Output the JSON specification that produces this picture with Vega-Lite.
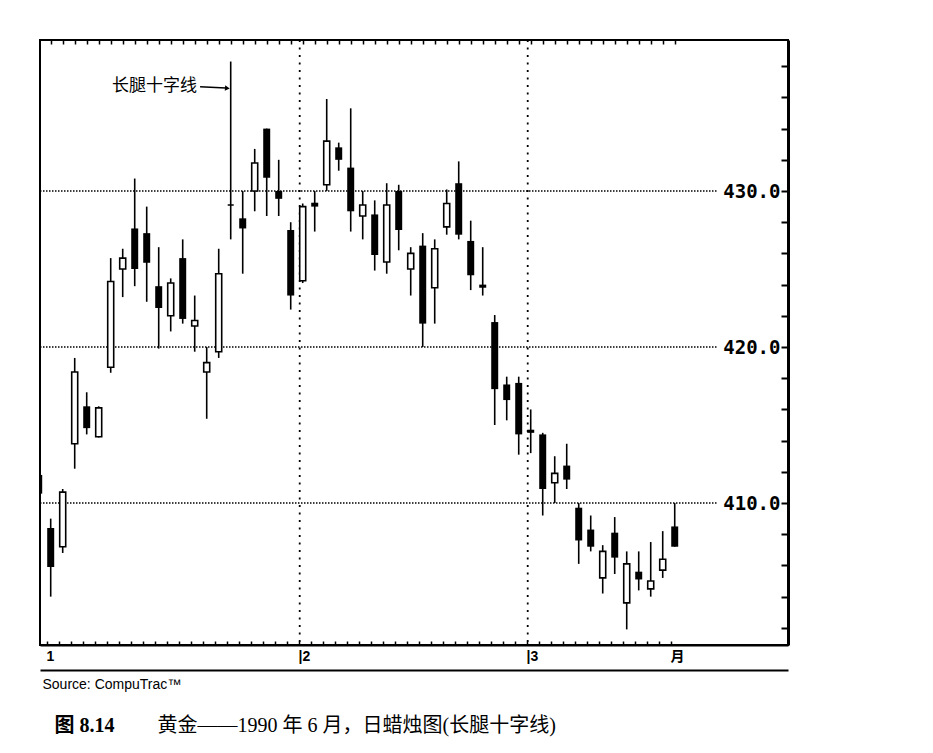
{
  "$schema": "https://vega.github.io/schema/vega-lite/v6.json",
  "width": 748,
  "height": 605,
  "autosize": {"type": "none"},
  "padding": {"left": 40, "top": 40, "right": 145, "bottom": 108},
  "background": "white",
  "config": {
    "view": {"stroke": "black", "strokeWidth": 2},
    "axis": {"labelColor": "black", "tickColor": "black", "domainColor": "black", "titleColor": "black", "grid": false}
  },
  "datasets": {
    "candles": [
      {"k": 0, "o": 411.8, "h": 411.8, "l": 410.6, "c": 410.6},
      {"k": 1, "o": 408.4, "h": 409.0, "l": 404.0, "c": 405.9},
      {"k": 2, "o": 407.2, "h": 410.9, "l": 406.8, "c": 410.7},
      {"k": 3, "o": 413.8, "h": 419.3, "l": 412.2, "c": 418.4},
      {"k": 4, "o": 416.2, "h": 417.1, "l": 414.4, "c": 414.8},
      {"k": 5, "o": 414.25, "h": 416.2, "l": 414.2, "c": 416.1},
      {"k": 6, "o": 418.7, "h": 425.7, "l": 418.35, "c": 424.2},
      {"k": 7, "o": 425.0, "h": 426.3, "l": 423.2, "c": 425.7},
      {"k": 8, "o": 427.6, "h": 430.8, "l": 423.9, "c": 425.0},
      {"k": 9, "o": 427.3, "h": 429.0, "l": 422.9, "c": 425.4},
      {"k": 10, "o": 423.9, "h": 426.4, "l": 419.9, "c": 422.5},
      {"k": 11, "o": 422.0, "h": 424.4, "l": 421.0, "c": 424.1},
      {"k": 12, "o": 425.7, "h": 426.9, "l": 421.5, "c": 421.8},
      {"k": 13, "o": 421.35, "h": 423.3, "l": 419.7, "c": 421.7},
      {"k": 14, "o": 418.4, "h": 420.0, "l": 415.4, "c": 419.0},
      {"k": 15, "o": 419.7, "h": 426.3, "l": 419.3, "c": 424.7},
      {"k": 16, "o": 429.1, "h": 438.3, "l": 426.9, "c": 429.1},
      {"k": 17, "o": 428.25, "h": 430.0, "l": 424.7, "c": 427.6},
      {"k": 18, "o": 430.0, "h": 432.7, "l": 428.7, "c": 431.8},
      {"k": 19, "o": 434.0, "h": 434.0, "l": 428.4, "c": 430.85},
      {"k": 20, "o": 430.0, "h": 432.0, "l": 428.4, "c": 429.5},
      {"k": 21, "o": 427.5, "h": 428.0, "l": 422.4, "c": 423.3},
      {"k": 22, "o": 424.25, "h": 429.2, "l": 424.1, "c": 429.0},
      {"k": 23, "o": 429.25, "h": 430.0, "l": 427.4, "c": 429.0},
      {"k": 24, "o": 430.4, "h": 435.9, "l": 430.0, "c": 433.2},
      {"k": 25, "o": 432.8, "h": 433.1, "l": 431.3, "c": 432.0},
      {"k": 26, "o": 431.5, "h": 435.3, "l": 427.4, "c": 428.7},
      {"k": 27, "o": 428.4, "h": 430.0, "l": 426.9, "c": 429.1},
      {"k": 28, "o": 428.5, "h": 429.4, "l": 424.9, "c": 425.9},
      {"k": 29, "o": 425.45, "h": 430.5, "l": 424.7, "c": 429.1},
      {"k": 30, "o": 430.0, "h": 430.4, "l": 426.2, "c": 427.5},
      {"k": 31, "o": 425.0, "h": 426.4, "l": 423.3, "c": 426.0},
      {"k": 32, "o": 426.5, "h": 427.3, "l": 420.0, "c": 421.5},
      {"k": 33, "o": 423.8, "h": 426.9, "l": 421.5, "c": 426.3},
      {"k": 34, "o": 427.7, "h": 430.1, "l": 427.2, "c": 429.2},
      {"k": 35, "o": 430.5, "h": 431.9, "l": 426.9, "c": 427.2},
      {"k": 36, "o": 426.8, "h": 428.1, "l": 423.65, "c": 424.6},
      {"k": 37, "o": 424.0, "h": 426.4, "l": 423.3, "c": 423.8},
      {"k": 38, "o": 421.6, "h": 422.05, "l": 415.0, "c": 417.3},
      {"k": 39, "o": 417.6, "h": 418.1, "l": 415.3, "c": 416.6},
      {"k": 40, "o": 417.7, "h": 418.1, "l": 413.1, "c": 414.4},
      {"k": 41, "o": 414.7, "h": 416.0, "l": 413.2, "c": 414.5},
      {"k": 42, "o": 414.4, "h": 414.5, "l": 409.2, "c": 410.9},
      {"k": 43, "o": 411.3, "h": 413.0, "l": 410.0, "c": 411.9},
      {"k": 44, "o": 412.4, "h": 413.8, "l": 410.9, "c": 411.5},
      {"k": 45, "o": 409.7, "h": 410.0, "l": 406.1, "c": 407.6},
      {"k": 46, "o": 408.3, "h": 409.2, "l": 406.9, "c": 407.2},
      {"k": 47, "o": 405.2, "h": 407.3, "l": 404.2, "c": 406.9},
      {"k": 48, "o": 408.1, "h": 409.1, "l": 405.45, "c": 406.5},
      {"k": 49, "o": 403.6, "h": 406.9, "l": 401.9, "c": 406.1},
      {"k": 50, "o": 405.6, "h": 406.9, "l": 404.4, "c": 405.1},
      {"k": 51, "o": 404.5, "h": 407.5, "l": 404.0, "c": 405.0},
      {"k": 52, "o": 405.7, "h": 408.2, "l": 405.2, "c": 406.4},
      {"k": 53, "o": 408.5, "h": 410.0, "l": 407.2, "c": 407.2}
    ],
    "grid": [{"v": 410}, {"v": 420}, {"v": 430}],
    "months": [{"k": 21.75}, {"k": 40.75}],
    "one": [{}]
  },
  "resolve": {"axis": {"x": "independent", "y": "independent"}},
  "layer": [
    {
      "data": {"name": "grid"},
      "mark": {"type": "rule", "strokeDash": [1.5, 1.5], "strokeWidth": 1.5, "color": "black"},
      "encoding": {
        "y": {"field": "v", "type": "quantitative", "scale": {"domain": [400.9, 439.68], "nice": false, "zero": false, "padding": 0}, "axis": null},
        "x": {"datum": 0.108, "type": "quantitative", "scale": {"domain": [0.108, 62.44], "nice": false, "zero": false, "padding": 0}, "axis": null},
        "x2": {"datum": 56.6}
      }
    },
    {
      "data": {"name": "months"},
      "mark": {"type": "rule", "strokeDash": [2, 5.5], "strokeWidth": 1.8, "color": "black"},
      "encoding": {
        "x": {"field": "k", "type": "quantitative", "scale": {"domain": [0.108, 62.44], "nice": false, "zero": false, "padding": 0},
          "axis": {"orient": "bottom", "domain": false, "ticks": false, "labels": false, "title": "图 8.14", "titleX": 14, "titleY": 86, "titleAlign": "left", "titleBaseline": "alphabetic", "titleFont": "'Liberation Serif', 'Noto Sans CJK SC'", "titleFontSize": 20, "titleFontWeight": "bold"}}
      }
    },
    {
      "data": {"name": "candles"},
      "mark": {"type": "rule", "strokeWidth": 1.6, "color": "black", "clip": true},
      "encoding": {
        "x": {"field": "k", "type": "quantitative", "scale": {"domain": [0.108, 62.44], "nice": false, "zero": false, "padding": 0},
          "axis": {"orient": "bottom", "values": [0.7, 1.7, 2.7, 3.7, 4.7, 5.7, 6.7, 7.7, 8.7, 9.7, 10.7, 11.7, 12.7, 13.7, 14.7, 15.7, 16.7, 17.7, 18.7, 19.7, 20.7, 21.7, 22.7, 23.7, 24.7, 25.7, 26.7, 27.7, 28.7, 29.7, 30.7, 31.7, 32.7, 33.7, 34.7, 35.7, 36.7, 37.7, 38.7, 39.7, 40.7, 41.7, 42.7, 43.7, 44.7, 45.7, 46.7, 47.7, 48.7, 49.7, 50.7, 51.7, 52.7],
            "tickSize": -4, "tickWidth": 1.5, "domain": true, "domainWidth": 2,
            "labelExpr": "datum.value == 0.7 ? '1' : datum.value == 21.7 ? '|2' : datum.value == 40.7 ? '|3' : datum.value == 52.7 ? '月' : ''",
            "labelAlign": "left", "labelBaseline": "top", "labelPadding": 8, "labelFlush": false, "labelOverlap": false, "labelOffset": -1,
            "labelFont": "'Liberation Sans', 'Noto Sans CJK SC'", "labelFontSize": 14, "labelFontWeight": "bold", "title": null}},
        "y": {"field": "l", "type": "quantitative", "scale": {"domain": [400.9, 439.68], "nice": false, "zero": false, "padding": 0},
          "axis": {"orient": "right", "values": [402, 404, 406, 408, 410, 412, 414, 416, 418, 420, 422, 424, 426, 428, 430, 432, 434, 436, 438],
            "tickSize": -7, "tickWidth": 2, "domain": true, "domainWidth": 3,
            "labelExpr": "datum.value % 10 == 0 ? format(datum.value, '.1f') : ''",
            "labelAlign": "right", "labelBaseline": "middle", "labelPadding": -1, "labelFlush": false, "labelOverlap": false,
            "labelFont": "'DejaVu Sans Mono'", "labelFontSize": 19, "labelFontWeight": "bold", "title": null}},
        "y2": {"field": "h"}
      }
    },
    {
      "data": {"name": "candles"},
      "transform": [{"filter": "datum.c >= datum.o"}],
      "mark": {"type": "bar", "width": 6, "fill": "white", "stroke": "black", "strokeWidth": 1.6, "clip": true},
      "encoding": {
        "x": {"field": "k", "type": "quantitative", "scale": {"domain": [0.108, 62.44], "nice": false, "zero": false, "padding": 0},
          "axis": {"orient": "top", "values": [1, 2, 3, 4, 5, 6, 7, 8, 9, 10, 11, 12, 13, 14, 15, 16, 17, 18, 19, 20, 21, 22, 23, 24, 25, 26, 27, 28, 29, 30, 31, 32, 33, 34, 35, 36, 37, 38, 39, 40, 41, 42, 43, 44, 45, 46, 47, 48, 49, 50, 51, 52, 53],
            "tickSize": -4, "tickWidth": 1.5, "domain": false, "labels": false, "title": null}},
        "y": {"field": "o", "type": "quantitative", "scale": {"domain": [400.9, 439.68], "nice": false, "zero": false, "padding": 0}, "axis": null},
        "y2": {"field": "c"}
      }
    },
    {
      "data": {"name": "candles"},
      "transform": [{"filter": "datum.c < datum.o"}],
      "mark": {"type": "bar", "width": 7, "fill": "black", "clip": true},
      "encoding": {
        "x": {"field": "k", "type": "quantitative", "scale": {"domain": [0.108, 62.44], "nice": false, "zero": false, "padding": 0},
          "axis": {"orient": "bottom", "offset": 25, "domain": true, "domainWidth": 2, "ticks": false, "labels": false,
            "title": "Source:  CompuTrac™", "titleX": 2, "titleY": 7, "titleAlign": "left", "titleBaseline": "top",
            "titleFont": "'Liberation Sans'", "titleFontSize": 14, "titleFontWeight": "normal"}},
        "y": {"field": "o", "type": "quantitative", "scale": {"domain": [400.9, 439.68], "nice": false, "zero": false, "padding": 0}, "axis": null},
        "y2": {"field": "c"}
      }
    },
    {
      "data": {"name": "one"},
      "mark": {"type": "text", "text": "长腿十字线", "align": "right", "baseline": "middle", "font": "'Noto Sans CJK SC'", "fontSize": 17, "color": "black"},
      "encoding": {
        "x": {"datum": 13.2, "type": "quantitative", "scale": {"domain": [0.108, 62.44], "nice": false, "zero": false, "padding": 0},
          "axis": {"orient": "bottom", "domain": false, "ticks": false, "labels": false,
            "title": "黄金——1990 年 6 月，日蜡烛图(长腿十字线)", "titleX": 117, "titleY": 86, "titleAlign": "left", "titleBaseline": "alphabetic",
            "titleFont": "'Liberation Serif', 'Noto Sans CJK SC'", "titleFontSize": 20, "titleFontWeight": "normal"}},
        "y": {"datum": 436.7, "type": "quantitative", "scale": {"domain": [400.9, 439.68], "nice": false, "zero": false, "padding": 0}, "axis": null}
      }
    },
    {
      "data": {"name": "one"},
      "mark": {"type": "rule", "strokeWidth": 1.5, "color": "black"},
      "encoding": {
        "x": {"datum": 13.45, "type": "quantitative", "scale": {"domain": [0.108, 62.44], "nice": false, "zero": false, "padding": 0}, "axis": null},
        "x2": {"datum": 15.6},
        "y": {"datum": 436.69, "type": "quantitative", "scale": {"domain": [400.9, 439.68], "nice": false, "zero": false, "padding": 0}, "axis": null},
        "y2": {"datum": 436.6}
      }
    },
    {
      "data": {"name": "one"},
      "mark": {"type": "point", "shape": "triangle-right", "filled": true, "color": "black", "opacity": 1, "size": 30, "angle": 5},
      "encoding": {
        "x": {"datum": 15.72, "type": "quantitative", "scale": {"domain": [0.108, 62.44], "nice": false, "zero": false, "padding": 0}, "axis": null},
        "y": {"datum": 436.59, "type": "quantitative", "scale": {"domain": [400.9, 439.68], "nice": false, "zero": false, "padding": 0}, "axis": null}
      }
    }
  ]
}
